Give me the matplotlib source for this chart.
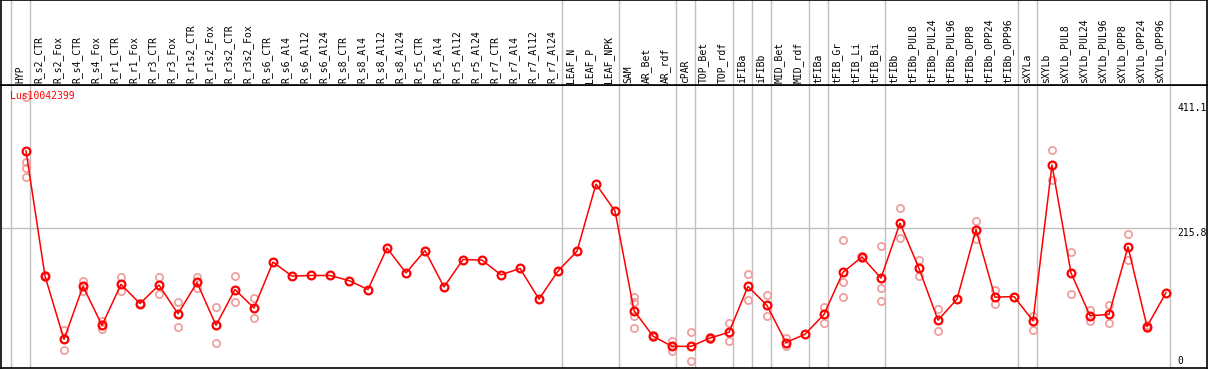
import matplotlib
matplotlib.use("Agg")
import matplotlib.pyplot as plt

title = "Lus10042399"
categories = ["HYP", "R_s2_CTR", "R_s2_Fox", "R_s4_CTR", "R_s4_Fox", "R_r1_CTR", "R_r1_Fox",
              "R_r3_CTR", "R_r3_Fox", "R_r1s2_CTR", "R_r1s2_Fox", "R_r3s2_CTR", "R_r3s2_Fox",
              "R_s6_CTR", "R_s6_Al4", "R_s6_Al12", "R_s6_Al24", "R_s8_CTR", "R_s8_Al4",
              "R_s8_Al12", "R_s8_Al24", "R_r5_CTR", "R_r5_Al4", "R_r5_Al12", "R_r5_Al24",
              "R_r7_CTR", "R_r7_Al4", "R_r7_Al12", "R_r7_Al24", "LEAF_N", "LEAF_P", "LEAF_NPK",
              "SAM", "AR_Bet", "AR_rdf", "cPAR", "TOP_Bet", "TOP_rdf", "iFIBa", "iFIBb",
              "MID_Bet", "MID_rdf", "tFIBa", "tFIB_Gr", "tFIB_Li", "tFIB_Bi", "tFIBb",
              "tFIBb_PUL8", "tFIBb_PUL24", "tFIBb_PUL96", "tFIBb_OPP8", "tFIBb_OPP24",
              "tFIBb_OPP96", "sXYLa", "sXYLb", "sXYLb_PUL8", "sXYLb_PUL24", "sXYLb_PUL96",
              "sXYLb_OPP8", "sXYLb_OPP24", "sXYLb_OPP96"]

means = [336, 140, 41, 124, 63, 127, 97, 126, 81, 130, 63, 119, 90,
         162, 140, 141, 141, 133, 119, 184, 145, 180, 123, 166, 165,
         142, 152, 104, 148, 179, 284, 242,
         86, 46, 30, 30, 43, 52, 124, 94, 36, 49, 80, 146, 170, 137, 223,
         152, 71, 104, 213, 107, 108, 70, 314, 145, 78, 80, 186, 61, 114]

replicates = [[420, 318, 309, 296], [142, 138], [56, 25, 42], [133, 116], [70, 57],
              [138, 117], [98, 96], [138, 112], [99, 60], [138, 122], [91, 36],
              [140, 99], [105, 74],
              [], [], [], [], [], [], [], [], [], [], [], [], [], [], [], [], [], [], [],
              [107, 100, 78, 59], [47, 45], [39, 22], [52, 7], [44, 41], [66, 38],
              [144, 102], [110, 77], [43, 30], [], [91, 66], [196, 131, 107], [172, 168],
              [187, 122, 101], [246, 199], [165, 140], [88, 54], [], [227, 198],
              [118, 96], [], [78, 55], [337, 290], [178, 112], [87, 70], [95, 67],
              [206, 166], [59, 63], []]

# last index of each group (group separators)
group_ends = [-1, 0, 28, 31, 34, 35, 37, 38, 39, 41, 42, 45, 52, 53, 60]
y_max_label = 411.1
y_mid_label = 215.8

W, H = 1209, 370
fig = plt.figure(figsize=(W / 100, H / 100), dpi=100)
font = "DejaVu Sans Mono"

xmin, xmax = (1 - 26) / 19, (1207 - 26) / 19
left = 1 / W
width = (1207 - 1) / W
ax = fig.add_axes([left, (H - 368) / H, width, (368 - 85) / H])
hx = fig.add_axes([left, (H - 85) / H, width, 85 / H])

for a in (ax, hx):
    a.set_xlim(xmin, xmax)
    a.set_xticks([])
    a.set_yticks([])
    for s in a.spines.values():
        s.set_color("black")
        s.set_linewidth(1.2)
    for g in group_ends:
        a.axvline(g + 0.22, color="#c0c0c0", lw=1, zorder=0)

ax.set_ylim(-3.9, 439.3)
hx.set_ylim(0, 1)

x = list(range(len(categories)))
ax.plot([xmin, 60.53], [y_mid_label, y_mid_label], color="#c0c0c0", lw=1, zorder=0)

rx, ry = [], []
for i, reps in enumerate(replicates):
    for v in reps:
        rx.append(i)
        ry.append(v)
ax.plot(rx, ry, linestyle="none", marker="o", ms=5.2, mfc="none",
        mec="#f0a0a0", mew=1.3, zorder=2)
ax.plot(x, means, color="red", lw=1.1, zorder=3)
ax.plot(x, means, linestyle="none", marker="o", ms=5.6, mfc="none",
        mec="red", mew=1.6, zorder=4)

for i, c in enumerate(categories):
    hx.text(i - 0.05, 0.024, c, rotation=90, ha="right", va="bottom",
            fontsize=7, family=font, color="black")

ax.text(-0.84, 430, title, ha="left", va="top", fontsize=7, family=font, color="red")
ax.text(60.58, y_max_label, f"{y_max_label}", ha="left", va="top", fontsize=7, family=font)
ax.text(60.58, y_mid_label, f"{y_mid_label}", ha="left", va="top", fontsize=7, family=font)
ax.text(60.58, 0, "0", ha="left", va="bottom", fontsize=7, family=font)

fig.savefig("out.png", dpi=100, facecolor="white")
